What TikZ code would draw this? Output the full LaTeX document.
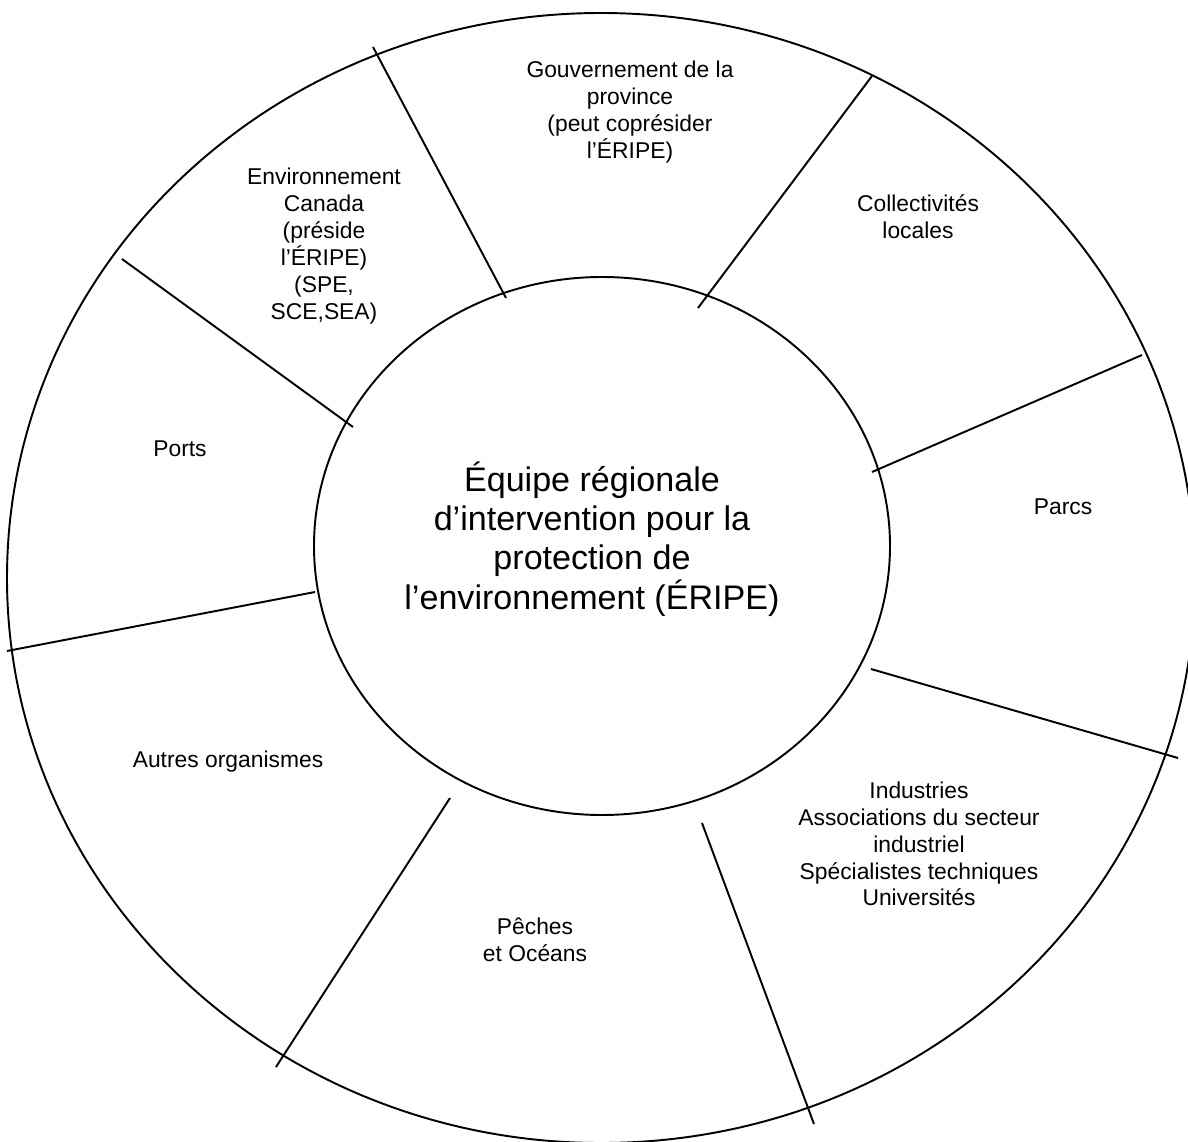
\documentclass[tikz,border=0pt]{standalone}
\usepackage{fontspec}
\setmainfont{Liberation Sans}
\usetikzlibrary{positioning}

\tikzset{
  sector/.style={align=center, inner sep=0pt, font=\fontsize{13}{15.3}\selectfont},
  core/.style={align=center, inner sep=0pt, font=\fontsize{19.4}{22.4}\selectfont},
}

\begin{document}
\begin{tikzpicture}[x=0.2mm, y=-0.2mm, line width=1.1pt]
        \useasboundingbox (0,0) rectangle (1188,1142);
        \clip (0,0) rectangle (1188,1142);
        % rings
        \draw (601,578) ellipse [x radius=594, y radius=565];
        \draw (602,546) ellipse [x radius=288, y radius=269];
        % spokes
        \draw (373,47) -- (506,298);
        \draw (872,76) -- (698,308);
        \draw (1142,355) -- (872,472);
        \draw (871,669) -- (1178,758);
        \draw (702,823) -- (814,1124);
        \draw (450,798) -- (276,1067);
        \draw (315,592) -- (7,651);
        \draw (122,259) -- (353,427);
        % texts
        \node[core] (eripe) at (592,539) {Équipe régionale\\d’intervention pour la\\protection de\\l’environnement (ÉRIPE)};
        \node[sector] (prov) at (630,112) {Gouvernement de la\\province\\(peut coprésider\\l’ÉRIPE)};
        \node[sector] (envcan) at (324,246) {Environnement\\Canada\\(préside\\l’ÉRIPE)\\(SPE,\\SCE,SEA)};
        \node[sector] (local) at (918,217) {Collectivités\\locales};
        \node[sector] (ports) at (180,449) {Ports};
        \node[sector] (parcs) at (1063,507) {Parcs};
        \node[sector] (autres) at (228,762) {Autres organismes};
        \node[sector] (peches) at (535,940) {Pêches\\et Océans};
        \node[sector] (indus) at (919,844) {Industries\\Associations du secteur\\industriel\\Spécialistes techniques\\Universités};
\end{tikzpicture}
\end{document}
